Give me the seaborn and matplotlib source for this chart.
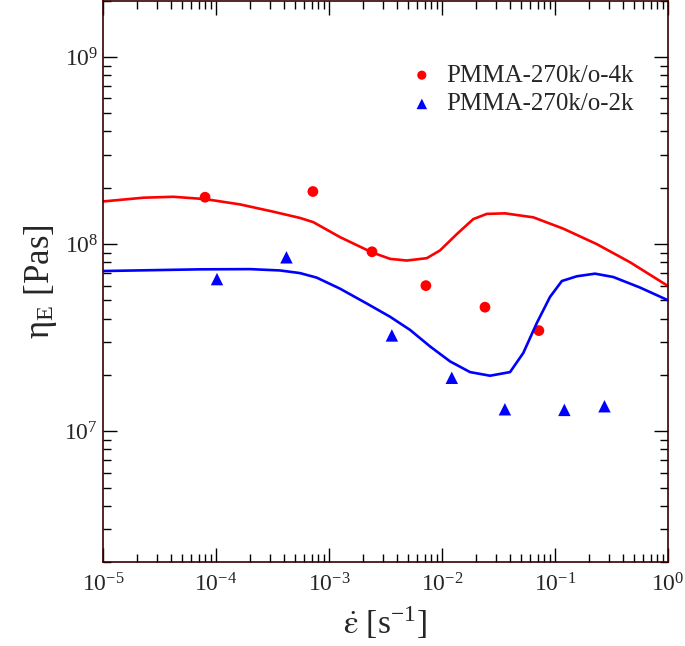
import matplotlib
matplotlib.use("Agg")
import matplotlib.pyplot as plt
import seaborn as sns
from matplotlib.ticker import LogLocator, NullFormatter

# Measured data points
rate_4k = [8.0e-5, 7.2e-4, 2.4e-3, 7.2e-3, 2.4e-2, 7.2e-2]
eta_4k = [1.78e8, 1.91e8, 9.1e7, 6.0e7, 4.6e7, 3.45e7]

rate_2k = [1.02e-4, 4.2e-4, 3.6e-3, 1.22e-2, 3.6e-2, 1.21e-1, 2.74e-1]
eta_2k = [6.5e7, 8.5e7, 3.25e7, 1.93e7, 1.31e7, 1.30e7, 1.36e7]

# Model curves
fit_rate_4k = [1.0e-5, 2.28e-5, 4.19e-5, 8.0e-5, 1.63e-4, 3.21e-4, 5.53e-4,
               7.26e-4, 1.25e-3, 2.39e-3, 3.47e-3, 4.88e-3, 7.33e-3, 9.6e-3,
               1.35e-2, 1.89e-2, 2.49e-2, 3.61e-2, 6.43e-2, 0.118, 0.234,
               0.461, 1.0]
fit_eta_4k = [1.69e8, 1.77e8, 1.79e8, 1.74e8, 1.63e8, 1.49e8, 1.38e8,
              1.31e8, 1.09e8, 9.04e7, 8.34e7, 8.17e7, 8.41e7, 9.25e7,
              1.13e8, 1.36e8, 1.45e8, 1.46e8, 1.39e8, 1.21e8, 1.0e8,
              8.0e7, 5.97e7]

fit_rate_2k = [1.0e-5, 7.21e-5, 2.0e-4, 3.68e-4, 5.53e-4, 7.78e-4, 1.25e-3,
               2.15e-3, 3.47e-3, 5.21e-3, 7.83e-3, 1.18e-2, 1.77e-2, 2.66e-2,
               4.0e-2, 5.24e-2, 6.89e-2, 9.03e-2, 0.115, 0.156, 0.226, 0.328,
               0.565, 1.0]
fit_eta_2k = [7.18e7, 7.33e7, 7.35e7, 7.23e7, 7.0e7, 6.62e7, 5.78e7,
              4.82e7, 4.09e7, 3.48e7, 2.84e7, 2.36e7, 2.07e7, 1.98e7,
              2.07e7, 2.62e7, 3.78e7, 5.22e7, 6.35e7, 6.73e7, 6.95e7, 6.67e7,
              5.86e7, 5.01e7]

label_4k = "PMMA-270k/o-4k"
label_2k = "PMMA-270k/o-2k"

sns.set_style("ticks")
plt.rcParams["font.family"] = ["Liberation Serif", "DejaVu Serif"]
plt.rcParams["mathtext.fontset"] = "stix"

fig = plt.figure(figsize=(6.85, 6.46), dpi=100)
ax = fig.add_axes([0.1504, 0.130, 0.8248, 0.869])

sns.lineplot(x=fit_rate_4k, y=fit_eta_4k, sort=False, color="#ff0000",
             linewidth=1.9, ax=ax, legend=False)
sns.lineplot(x=fit_rate_2k, y=fit_eta_2k, sort=False, color="#0000ff",
             linewidth=1.9, ax=ax, legend=False)

sns.scatterplot(x=rate_4k, y=eta_4k, color="#ff0000", marker="o", s=60,
                edgecolor="none", label=label_4k, ax=ax)
sns.scatterplot(x=rate_2k, y=eta_2k, color="#0000ff", marker="^", s=80,
                edgecolor="none", label=label_2k, ax=ax)

ax.set_xscale("log")
ax.set_yscale("log")
ax.set_xlim(1e-5, 1)
ax.set_ylim(2e6, 2e9)

ax.xaxis.set_major_locator(LogLocator(base=10, numticks=10))
ax.xaxis.set_minor_locator(LogLocator(base=10, subs=range(2, 10), numticks=20))
ax.yaxis.set_major_locator(LogLocator(base=10, numticks=10))
ax.yaxis.set_minor_locator(LogLocator(base=10, subs=range(2, 10), numticks=20))
ax.xaxis.set_minor_formatter(NullFormatter())
ax.yaxis.set_minor_formatter(NullFormatter())

ax.tick_params(which="both", direction="in", top=True, right=True,
               labelsize=17, color="black")
ax.tick_params(which="major", length=10, width=1)
ax.tick_params(which="minor", length=5.5, width=1)
ax.tick_params(axis="x", pad=8)

for sp in ax.spines.values():
    sp.set_color("#3a0000")
    sp.set_linewidth(1.2)

ax.set_xlabel(r"$\dot{\mathrm{\varepsilon}}$ [s$^{\mathregular{-1}}$]",
              fontsize=24, labelpad=6)
ax.set_ylabel("η$_{\\mathregular{E}}$ [Pas]", fontsize=25, labelpad=4)

ax.legend(loc="upper left", bbox_to_anchor=(0.520, 0.909), frameon=False,
          fontsize=18, borderpad=0, handlelength=1.0, handletextpad=0.46,
          labelspacing=0.25, markerscale=0.85)

fig.savefig("out.png", dpi=100)
